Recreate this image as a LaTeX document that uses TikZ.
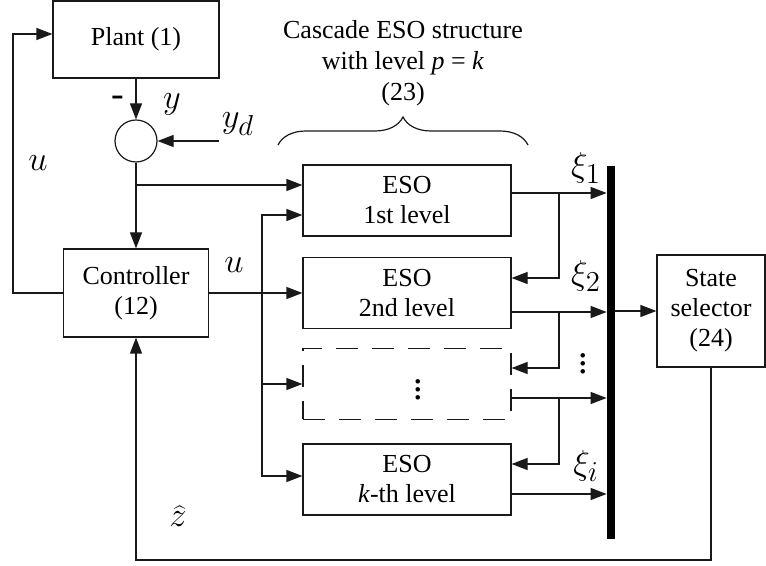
\documentclass[tikz,border=0pt]{standalone}
\usepackage{fontspec}
\setmainfont{LiberationSerif}[Extension=.ttf, UprightFont=*-Regular, ItalicFont=*-Italic, BoldFont=*-Bold]
\usepackage{tikz}
\usetikzlibrary{arrows.meta, positioning, calc, decorations.pathreplacing}
\definecolor{mydark}{RGB}{25,25,25}
\tikzset{
  block/.style={rectangle, draw=mydark, fill=white,
    minimum width=104pt, minimum height=35.5pt, align=center,
    font=\rmfamily\fontsize{13}{15}\selectfont, inner sep=0pt, line width=0.6pt},
  dashblock/.style={block, dash pattern=on 11pt off 7pt},
  sumjunc/.style={circle, draw=mydark, minimum size=21pt, inner sep=0pt, line width=0.6pt},
  busbar/.style={rectangle, fill=black, minimum width=4pt, minimum height=186.5pt, inner sep=0pt},
  lbl/.style={font=\fontsize{19}{21}\selectfont, inner sep=0pt},
  txt/.style={font=\rmfamily\fontsize{13}{15.5}\selectfont, align=center, inner sep=0pt},
  arrow/.style={-{Triangle[length=8pt,width=6pt]}, line width=0.6pt, color=mydark},
  line/.style={line width=0.6pt, color=mydark}
}

\begin{document}
\begin{tikzpicture}[x=0.5pt, y=-0.5pt]
  \useasboundingbox (0,0) rectangle (766,566);

  % Plant, summing point and controller
  \node[block, minimum width=83pt, minimum height=38.5pt] (plant) at (136,39.5) {Plant (1)};
  \node[sumjunc] (sum) at (136,141) {};
  \node[block, minimum width=72.5pt, minimum height=44pt] (ctrl) at (136,293) {Controller\\(12)};

  % Cascade of observers
  \node[block] (eso1) at (407,200.5) {ESO\\1st level};
  \node[block] (eso2) at (407,293) {ESO\\2nd level};
  \node[dashblock] (esod) at (407,384) {};
  \node[block] (esok) at (407,479.5) {ESO\\\textit{k}-th level};
  \node[lbl] (dotsd) at (418,384) {$\vdots$};

  % Bus and selector
  \node[busbar] (bar) at (611,352.5) {};
  \node[block, minimum width=54pt, minimum height=56pt] (sel) at (711,311) {State\\selector\\(24)};

  % Title with brace
  \node[txt] (title) at (403,63) {Cascade ESO structure\\with level \textit{p} = \textit{k}\\(23)};
  \draw[line, decorate, decoration={brace, amplitude=14pt}] (278,145) -- (528,145);

  % Helper points
  \coordinate (yd) at (219,141);
  \coordinate (lft) at (13,293);
  \coordinate (jn) at (136,185);
  \coordinate (bus) at (262,293);
  \coordinate (fb) at (559,0);
  \coordinate (bot) at (136,560);

  % Loop on the left
  \draw[arrow] (plant) -- (sum);
  \draw[arrow] (yd) -- (sum);
  \draw[arrow] (sum) -- (ctrl);
  \draw[arrow] (jn) -- (jn -| eso1.west);
  \draw[arrow] (ctrl.west) -- (lft) |- ([yshift=2.75pt]plant.west);

  % Controller output to every level
  \draw[arrow] (ctrl) -- (eso2);
  \draw[arrow] (bus) |- ([yshift=-7.25pt]eso1.west);
  \draw[arrow] (bus) |- (esod.west);
  \draw[arrow] (bus) |- ([yshift=1.75pt]esok.west);

  % Level outputs and feed-forward to the next level
  \draw[arrow] ([yshift=3.75pt]eso1.east) coordinate (o1) -- (o1 -| bar.west);
  \draw[arrow] (o1 -| fb) |- ([yshift=7.5pt]eso2.east);
  \draw[arrow] ([yshift=-9.5pt]eso2.east) coordinate (o2) -- (o2 -| bar.west);
  \draw[arrow] (o2 -| fb) |- ([yshift=8pt]esod.east);
  \draw[arrow] ([yshift=-7pt]esod.east) coordinate (o3) -- (o3 -| bar.west);
  \draw[arrow] (o3 -| fb) |- ([yshift=7.75pt]esok.east);
  \draw[arrow] ([yshift=-7.25pt]esok.east) coordinate (o4) -- (o4 -| bar.west);

  % Selector and estimate feedback
  \draw[arrow] (bar.east |- sel.west) -- (sel.west);
  \draw[arrow] (sel.south) |- (bot) -- (ctrl.south);

  % Labels
  \node[lbl] (minus) at (118,101) {-};
  \node[lbl] (ylab) at (172,104) {$y$};
  \node[lbl] (ydlab) at (238,124) {$y_d$};
  \node[lbl] (ulft) at (38,163) {$u$};
  \node[lbl] (urgt) at (234,265) {$u$};
  \node[lbl] (xi1) at (586,168) {$\xi_1$};
  \node[lbl] (xi2) at (586,276) {$\xi_2$};
  \node[lbl] (xidots) at (583,358) {$\vdots$};
  \node[lbl] (xii) at (586,466) {$\xi_i$};
  \node[lbl] (zhat) at (178,516) {$\widehat{z}$};
\end{tikzpicture}
\end{document}
